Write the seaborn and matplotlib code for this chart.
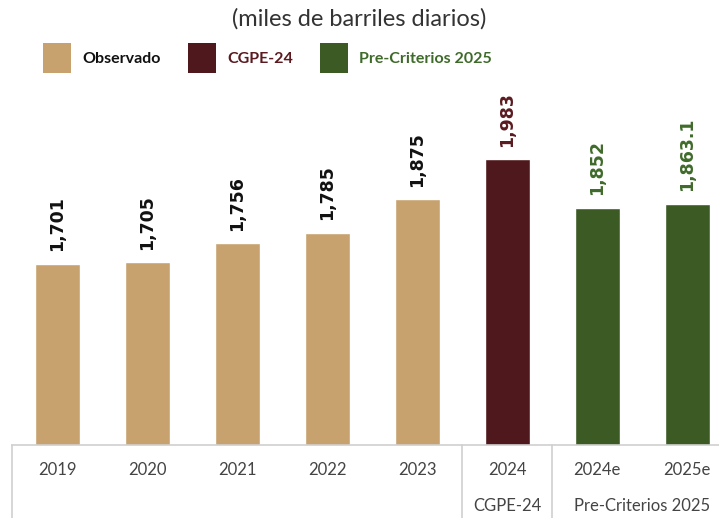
import matplotlib
matplotlib.use("Agg")
import matplotlib.pyplot as plt
import matplotlib.transforms as mtransforms
from matplotlib.patches import Patch
import seaborn as sns
import pandas as pd

# data
years = ["2019", "2020", "2021", "2022", "2023", "2024", "2024e", "2025e"]
produccion = [1701, 1705, 1756, 1785, 1875, 1983, 1852, 1863.1]
etiquetas = ["1,701", "1,705", "1,756", "1,785", "1,875", "1,983", "1,852", "1,863.1"]
serie = ["Observado"] * 5 + ["CGPE-24"] + ["Pre-Criterios 2025"] * 2

colores = {"Observado": "#C8A26E", "CGPE-24": "#4F181C", "Pre-Criterios 2025": "#3B5A24"}
color_txt = {"Observado": "#111111", "CGPE-24": "#5A1A20", "Pre-Criterios 2025": "#3F6B2A"}

df = pd.DataFrame({"anio": years, "valor": produccion, "serie": serie})

sns.set_style("white")
plt.rcParams["font.family"] = ["Lato", "DejaVu Sans"]

W, H = 719, 518
fig = plt.figure(figsize=(W / 100, H / 100), dpi=100)
# axes: left edge at x=12px, bottom at y=445px, top at y=90px
ax = fig.add_axes([12 / W, (H - 445) / H, (W - 12) / W, (445 - 90) / H])

sns.barplot(data=df, x="anio", y="valor", hue="serie", palette=colores,
            width=0.5, dodge=False, legend=False, saturation=1, ax=ax)

px_per_unit = 0.3695
ax.set_ylim(1210, 1210 + 355 / px_per_unit)
ax.set_xlim(-0.5, (W - 57) / 90)

for i, (v, lab, s) in enumerate(zip(produccion, etiquetas, serie)):
    ax.annotate(lab, (i, v), xytext=(0, 9), textcoords="offset points",
                rotation=90, ha="center", va="bottom", fontsize=12.5,
                fontweight="bold", color=color_txt[s], family=["DejaVu Sans"])

for sp in ["top", "right", "left"]:
    ax.spines[sp].set_visible(False)
ax.spines["bottom"].set_color("#CFCFCF")
ax.spines["bottom"].set_linewidth(1.2)
ax.set_yticks([])
ax.set_ylabel("")
ax.set_xlabel("")
ax.tick_params(axis="x", length=0, pad=12, labelsize=12, labelcolor="#444444")

# table-style separators below the axis
below = -(H - 445) / 355
for xv in [-0.5, 4.5, 5.5]:
    ax.axvline(xv, ymin=below, ymax=0, color="#CFCFCF", lw=1.2, clip_on=False)

trans = mtransforms.blended_transform_factory(ax.transData, ax.transAxes)
ax.text(5, -(506 - 445) / 355, "CGPE-24", transform=trans, ha="center",
        va="center", fontsize=12, color="#444444")
ax.text(6.5, -(506 - 445) / 355, "Pre-Criterios 2025", transform=trans, ha="center",
        va="center", fontsize=12, color="#444444")

fig.text(359 / W, 1 - 19 / H, "(miles de barriles diarios)", ha="center",
         va="center", fontsize=17, color="#333333")

handles = [Patch(facecolor=colores[k], edgecolor="none") for k in colores]
leg = fig.legend(handles, list(colores.keys()), loc="center left",
                 bbox_to_anchor=(29 / W, 1 - 58 / H), ncol=3, frameon=False,
                 handlelength=1.75, handleheight=2.6, handletextpad=0.7,
                 columnspacing=1.7, prop={"weight": "bold", "size": 11.5})
for t, k in zip(leg.get_texts(), colores):
    t.set_color(color_txt[k])

fig.savefig("out.png", dpi=100)
